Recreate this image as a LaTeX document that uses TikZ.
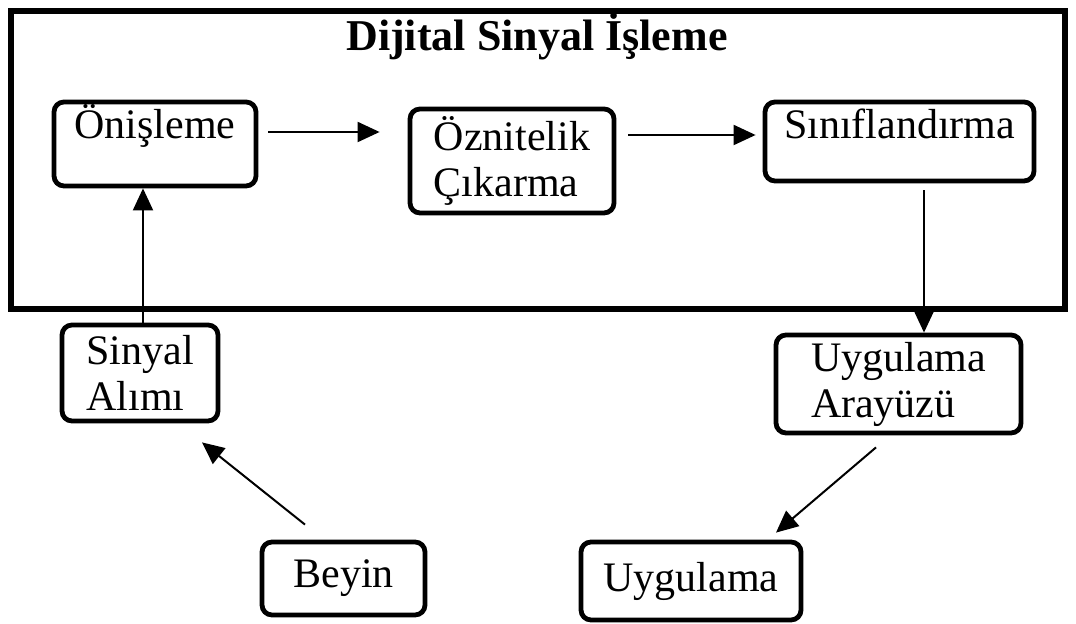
\documentclass[tikz,border=0pt]{standalone}
\usepackage{fontspec}
\setmainfont{Liberation Serif}
\usetikzlibrary{arrows.meta,positioning}

\begin{document}
\begin{tikzpicture}[x=0.5pt, y=-0.5pt, >={Triangle[length=11pt,width=10pt]},
  blok/.style={draw, line width=2.4pt, rounded corners=5pt, inner sep=0pt, align=left,
    font=\fontsize{21}{23}\selectfont},
  ok/.style={->, line width=1pt}]
  \useasboundingbox (0,0) rectangle (1076,624);

  % Outer frame: digital signal processing
  \draw[line width=3pt] (11,11) rectangle (1065,309);
  \node[font=\bfseries\fontsize{22}{24}\selectfont] (baslik) at (537,36) {Dijital Sinyal İşleme};

  % Processing chain
  \node[blok, minimum width=101pt, text height=18.5pt, text depth=23.5pt] (onisleme) at (155,144) {Önişleme};
  \node[blok, minimum width=102pt, minimum height=52pt] (oznitelik) at (512,161) {Öznitelik\\Çıkarma};
  \node[blok, minimum width=134.5pt, text height=18.5pt, text depth=21pt] (sinif) at (899.5,141.5) {Sınıflandırma};

  % Outside the frame
  \node[blok, minimum width=78pt, minimum height=48pt] (alim) at (140,373) {Sinyal\\Alımı};
  \node[blok, minimum width=122.5pt, minimum height=49pt] (arayuz) at (898.5,384) {Uygulama\\Arayüzü};
  \node[blok, minimum width=81.5pt, minimum height=36.5pt] (beyin) at (343.5,578.5) {Beyin};
  \node[blok, minimum width=110pt, minimum height=39pt] (uygulama) at (691,581) {Uygulama};

  % Arrows
  \draw[ok, shorten <=5pt, shorten >=14pt] ([yshift=6pt]onisleme.east) -- ([yshift=6pt]onisleme.east -| oznitelik.west);
  \draw[ok, shorten <=6pt, shorten >=3.5pt] ([yshift=3.25pt]sinif.west -| oznitelik.east) -- ([yshift=3.25pt]sinif.west);
  \draw[ok] ([xshift=1.5pt]alim.north) -- ([xshift=1.5pt]alim.north |- onisleme.south);
  \draw[ok, shorten <=3.5pt] ([xshift=12.25pt]sinif.south) -- ([xshift=12.25pt]sinif.south |- arayuz.north);
  \draw[ok] ([xshift=-11.25pt,yshift=-6pt]arayuz.south) -- ([xshift=42.5pt,yshift=3.5pt]uygulama.north);
  \draw[ok] ([xshift=-19.25pt,yshift=7.5pt]beyin.north) -- ([xshift=31pt,yshift=-9.5pt]alim.south);
\end{tikzpicture}
\end{document}
